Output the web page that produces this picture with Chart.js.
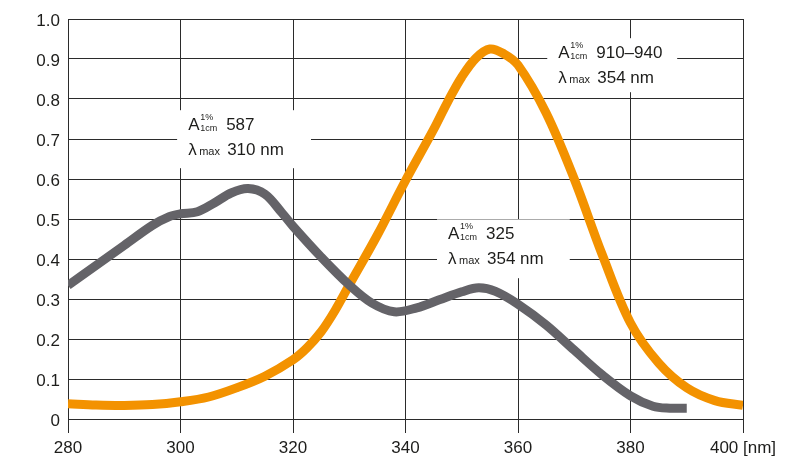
<!DOCTYPE html>
<html>
<head>
<meta charset="utf-8">
<script src="https://cdn.jsdelivr.net/npm/chart.js@4/dist/chart.umd.min.js"></script>
<style>
	html, body { margin: 0; padding: 0; background: #fff; }
	#wrap { width: 785px; height: 462px; }
</style>
</head>
<body>
<div id="wrap"><canvas id="spectrum" width="785" height="462"></canvas></div>
<script>
// Absorption spectra, wavelength in nm vs absorbance.
var grayX = [ 280, 285, 290, 295, 298, 300, 303, 306, 309, 312, 315, 318, 320, 325, 330, 334, 338, 342, 346, 350, 353, 356, 360, 365, 370, 375, 380, 384, 387, 390 ];
var grayY = [ 0.334, 0.384, 0.434, 0.484, 0.506, 0.513, 0.518, 0.54, 0.565, 0.576, 0.562, 0.516, 0.482, 0.405, 0.335, 0.29, 0.268, 0.278, 0.298, 0.318, 0.328, 0.319, 0.287, 0.235, 0.172, 0.11, 0.058, 0.032, 0.027, 0.027 ];

var orangeX = [ 280, 285, 290, 295, 300, 305, 310, 315, 320, 322.5, 325, 327.5, 330, 335, 340, 345, 347.5, 350, 352.5, 355, 357.5, 360, 365, 370, 375, 380, 385, 390, 395, 400 ];
var orangeY = [ 0.038, 0.035, 0.034, 0.036, 0.043, 0.055, 0.078, 0.107, 0.148, 0.178, 0.218, 0.272, 0.335, 0.46, 0.596, 0.724, 0.793, 0.855, 0.902, 0.925, 0.913, 0.885, 0.765, 0.6, 0.41, 0.24, 0.14, 0.078, 0.046, 0.034 ];

var xTicks = [ 280, 300, 320, 340, 360, 380, 400 ];
var yTicks = [ 0, 0.1, 0.2, 0.3, 0.4, 0.5, 0.6, 0.7, 0.8, 0.9, 1.0 ];

// Labels: A(1%, 1cm) value and lambda max.
var labelValues = [ '587', '910\u2013940', '325' ];
var labelLambda = [ '310 nm', '354 nm', '354 nm' ];
// box in data units: [xFrom, xTo, yTop, yBottom]
var labelBoxes = [
	[ 299.4, 323.2, 0.772, 0.627 ],
	[ 365.2, 388.3, 0.952, 0.817 ],
	[ 345.6, 369.2, 0.499, 0.352 ]
];

var FONT = '"Liberation Sans", Arial, Helvetica, sans-serif';
var TEXT = '#1d1d1b';

function pts( xs, ys ) {
	return xs.map( function ( x, i ) { return { x: x, y: ys[ i ] }; } );
}

var labelPlugin = {
	id: 'specLabels',
	beforeDatasetsDraw: function ( chart ) {
		var ctx = chart.ctx;
		var xs = chart.scales.x;
		var ys = chart.scales.y;
		ctx.save();
		labelBoxes.forEach( function ( b, i ) {
			var x0 = xs.getPixelForValue( b[ 0 ] );
			var x1 = xs.getPixelForValue( b[ 1 ] );
			var y0 = ys.getPixelForValue( b[ 2 ] );
			var y1 = ys.getPixelForValue( b[ 3 ] );
			ctx.fillStyle = '#fff';
			ctx.fillRect( x0, y0, x1 - x0, y1 - y0 );

			var tx = x0 + 11;
			var base1 = y0 + 20;
			var base2 = y0 + 45;
			ctx.fillStyle = TEXT;
			ctx.textAlign = 'left';
			ctx.textBaseline = 'alphabetic';
			ctx.font = '17px ' + FONT;
			ctx.fillText( 'A', tx, base1 );
			ctx.fillText( labelValues[ i ], tx + 38, base1 );
			ctx.fillText( '\u03bb', tx, base2 );
			ctx.fillText( labelLambda[ i ], tx + 39, base2 );
			ctx.font = '9px ' + FONT;
			ctx.fillText( '1%', tx + 12, base1 - 10 );
			ctx.fillText( '1cm', tx + 12, base1 + 1 );
			ctx.font = '11px ' + FONT;
			ctx.fillText( 'max', tx + 11, base2 );
		} );
		ctx.restore();
	}
};

new Chart( document.getElementById( 'spectrum' ), {
	type: 'line',
	data: {
		datasets: [
			{
				data: pts( grayX, grayY ),
				borderColor: '#646368',
				borderWidth: 9,
				pointRadius: 0,
				tension: 0.35,
				borderCapStyle: 'butt',
				clip: 0
			},
			{
				data: pts( orangeX, orangeY ),
				borderColor: '#f39200',
				borderWidth: 9,
				pointRadius: 0,
				tension: 0.35,
				borderCapStyle: 'butt',
				clip: 0
			}
		]
	},
	options: {
		responsive: false,
		animation: false,
		events: [],
		layout: { padding: { top: 19, left: 0, right: 42, bottom: 0 } },
		plugins: { legend: { display: false }, tooltip: { enabled: false } },
		scales: {
			x: {
				type: 'linear',
				min: xTicks[ 0 ],
				max: xTicks[ xTicks.length - 1 ],
				afterBuildTicks: function ( s ) { s.ticks = xTicks.map( function ( v ) { return { value: v }; } ); },
				afterFit: function ( s ) { s.height = 43; },
				grid: { color: '#2b2b2b', lineWidth: 1, tickLength: 14, drawTicks: true },
				border: { display: false },
				ticks: {
					color: TEXT,
					font: { family: FONT, size: 17 },
					padding: 5,
					maxRotation: 0,
					callback: function ( v ) { return v === 400 ? '400 [nm]' : String( v ); }
				}
			},
			y: {
				type: 'linear',
				min: 0,
				max: 1,
				afterBuildTicks: function ( s ) { s.ticks = yTicks.map( function ( v ) { return { value: v }; } ); },
				afterFit: function ( s ) { s.width = 68; },
				grid: { color: '#2b2b2b', lineWidth: 1, drawTicks: false },
				border: { display: false },
				ticks: {
					color: TEXT,
					font: { family: FONT, size: 17 },
					padding: 8,
					labelOffset: 2,
					callback: function ( v ) { return v === 0 ? '0' : v.toFixed( 1 ); }
				}
			}
		}
	},
	plugins: [ labelPlugin ]
} );
</script>
</body>
</html>
